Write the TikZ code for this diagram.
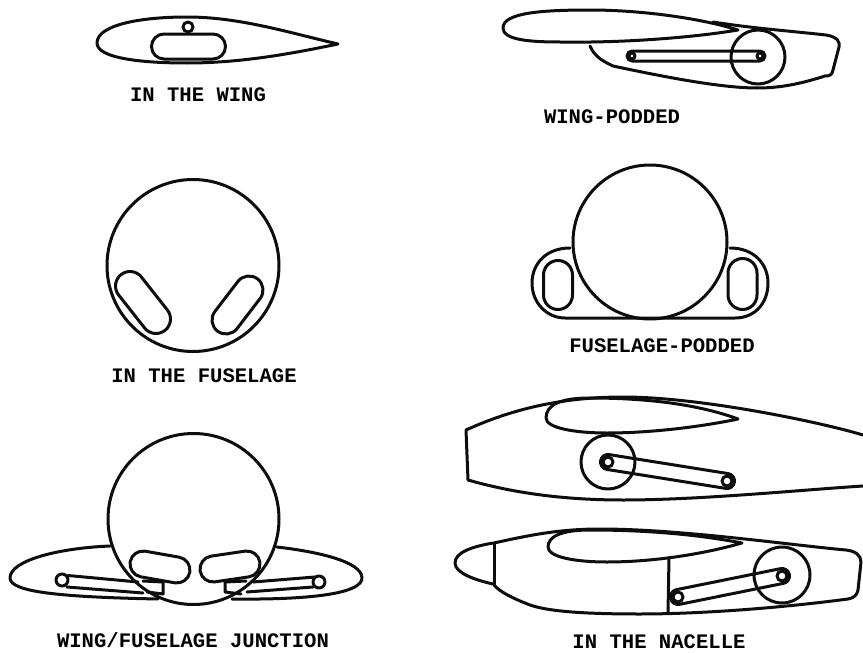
\documentclass[tikz,border=0pt]{standalone}
\usepackage{fontspec}
\setmainfont{Liberation Mono}
\newcommand\capsule[5]{%
  \pgfmathsetmacro\capang{atan2(#4-#2,#3-#1)}%
  \pgfmathsetmacro\caplen{veclen(#3-#1,#4-#2)}%
  \draw[shift={(#1,#2)},rotate=\capang] (0,#5) -- (\caplen,#5)
    arc[start angle=90,end angle=-90,radius=#5] -- (0,-#5)
    arc[start angle=-90,end angle=-270,radius=#5] -- cycle;}
\tikzset{
  lbl/.style={font=\bfseries\fontsize{20.6}{20.6}\selectfont,inner sep=0pt,text=black},
}
\begin{document}
\begin{tikzpicture}[x=1pt,y=1pt,yscale=-1,line width=3pt,line join=round,line cap=round,black!95]
\useasboundingbox (0,0) rectangle (863,653);
% IN THE WING
\draw (338,44) .. controls (290,33) and (240,17) .. (187,17) .. controls (140,17) and (97,25) .. (97,43)
  .. controls (97,58) and (140,63) .. (187,63) .. controls (240,63) and (290,54) .. (338,44) -- cycle;
\draw (188,27) circle[radius=5];
\capsule{164}{46.5}{213}{46.5}{12.5}
\node[lbl] (t1) at (198,95) {IN THE WING};
% WING-PODDED
\draw (738,30) .. controls (700,18) and (640,10) .. (590,10) .. controls (540,10) and (503,13) .. (503,28)
  .. controls (503,40) and (530,42) .. (560,42) .. controls (620,43) and (690,38) .. (738,30) -- cycle;
\draw (713,22) .. controls (750,28) and (790,31) .. (826,35) .. controls (838,37) and (840,42) .. (839,47)
  -- (833,70) .. controls (832,75) and (830,76) .. (825,76) .. controls (800,84) and (780,88) .. (757,88)
  .. controls (720,88) and (660,76) .. (613,66) .. controls (600,60) and (594,55) .. (590,46);
\draw (758,57) circle[radius=27];
\capsule{632}{56}{760}{56}{5}
\draw (632,56) circle[radius=3] (760,56) circle[radius=3];
\node[lbl] (t2) at (612,117) {WING-PODDED};
% IN THE FUSELAGE
\draw (193,265.5) circle[radius=86];
\capsule{130}{286}{156}{319}{14.5}
\capsule{249}{290}{226}{320}{14}
\node[lbl] (t3) at (204,376) {IN THE FUSELAGE};
% FUSELAGE-PODDED
\draw (650,242) circle[radius=77];
\draw (570,248) .. controls (545,248) and (532,265) .. (532,283) .. controls (532,303) and (547,318) .. (565,318)
  -- (735,318) .. controls (755,318) and (768,303) .. (768,283) .. controls (768,265) and (755,248) .. (730,248);
\capsule{558}{275}{558}{295}{14.5}
\capsule{742.5}{273}{742.5}{295}{14.5}
\node[lbl] (t4) at (662,346) {FUSELAGE-PODDED};
% WING/FUSELAGE JUNCTION
\draw (193.5,519) circle[radius=85.5];
\draw (110,546) .. controls (60,548) and (10,560) .. (10,578) .. controls (10,592) and (60,597) .. (158,599);
\draw (277,547) .. controls (320,552) and (362,562) .. (362,578) .. controls (362,592) and (320,600) .. (232,599);
\capsule{143}{564}{177}{570}{13}
\capsule{213}{569}{247}{564}{13}
\draw (62,580) circle[radius=6] (319,582) circle[radius=6];
\draw (68,575.5) -- (138,582) (67,587) -- (143,593);
\draw (315,577) -- (253,582) (313,587) -- (247,592);
\draw (143,581) -- (163,582) -- (163,594) -- (147,592);
\draw (246,581) -- (225,582) -- (225,592) -- (241,594);
\node[lbl] (t5) at (193,640) {WING/FUSELAGE JUNCTION};
% NACELLE 1
\draw (863,435) .. controls (820,422) and (700,397) .. (623,397) .. controls (560,397) and (510,410) .. (466,430)
  -- (468,480) .. controls (510,492) and (560,500) .. (623,500) .. controls (700,500) and (800,490) .. (863,486);
\draw (738,419) .. controls (700,405) and (650,398) .. (590,398) .. controls (560,398) and (546,405) .. (546,418)
  .. controls (546,428) and (575,433) .. (607,433) .. controls (650,433) and (700,427) .. (738,419) -- cycle;
\draw (608,462) circle[radius=27];
\capsule{608}{462}{727}{481}{7.5}
\draw (608,462) circle[radius=5] (727,481) circle[radius=5];
% NACELLE 2
\draw (493,543) .. controls (470,547) and (455,553) .. (455,563) .. controls (455,573) and (475,580) .. (493,584);
\draw (494,543) -- (494,585);
\draw (494,543) .. controls (530,535) and (560,529) .. (600,529) .. controls (680,529) and (790,545) .. (846,550)
  .. controls (855,551) and (861,555) .. (861,562) -- (858,590) .. controls (857,596) and (853,598) .. (848,599)
  .. controls (780,608) and (700,614) .. (640,614) .. controls (590,614) and (550,612) .. (530,605)
  .. controls (512,598) and (500,592) .. (494,585);
\draw (742,543) .. controls (700,535) and (650,530) .. (590,530) .. controls (560,530) and (548,537) .. (548,547)
  .. controls (548,557) and (575,562) .. (607,562) .. controls (650,562) and (700,555) .. (742,543) -- cycle;
\draw (669,558) -- (668,613);
\draw (782,575) circle[radius=28];
\capsule{782}{576}{678}{597}{7.5}
\draw (782,576) circle[radius=5] (678,597) circle[radius=5];
\node[lbl] (t6) at (659,642) {IN THE NACELLE};
\end{tikzpicture}
\end{document}
